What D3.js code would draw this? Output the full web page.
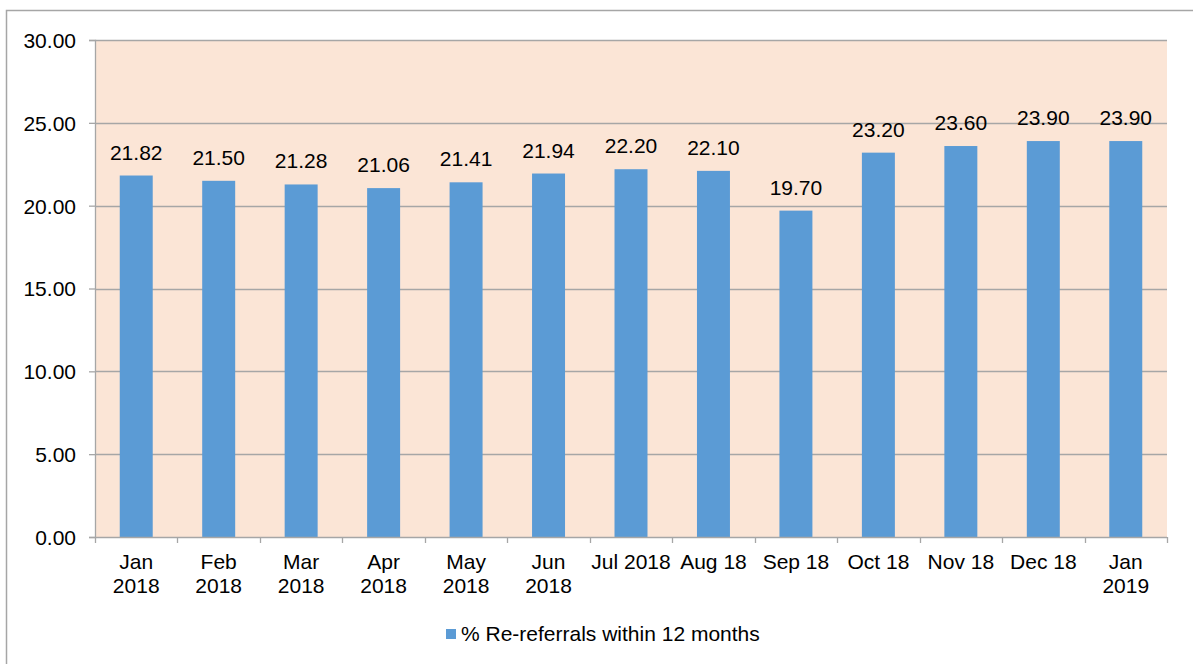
<!DOCTYPE html>
<html>
<head>
<meta charset="utf-8">
<style>
  body { margin: 0; background: #fff; }
  text { font-family: "Liberation Sans", Arial, sans-serif; fill: #000; }
</style>
</head>
<body>
<script src="https://d3js.org/d3.v7.min.js"></script>
<script>
  // chart data
  const months = [
    ['Jan', '2018'], ['Feb', '2018'], ['Mar', '2018'], ['Apr', '2018'],
    ['May', '2018'], ['Jun', '2018'], ['Jul 2018'], ['Aug 18'],
    ['Sep 18'], ['Oct 18'], ['Nov 18'], ['Dec 18'], ['Jan', '2019']
  ]
  const values = [21.82, 21.50, 21.28, 21.06, 21.41, 21.94, 22.20, 22.10, 19.70, 23.20, 23.60, 23.90, 23.90]
  const yTicks = [0, 5, 10, 15, 20, 25, 30]
  const seriesName = '% Re-referrals within 12 months'

  const width = 1193
  const height = 664
  const margins = { top: 40, right: 26, bottom: 127, left: 95 }
  const w = width - margins.left - margins.right
  const h = height - margins.top - margins.bottom
  const fs = '21px'

  const svg = d3.select('body').append('svg')
    .attr('width', width)
    .attr('height', height)

  // outer frame (only left and top visible in the crop)
  svg.append('rect')
    .attr('x', 6.5).attr('y', 10.5)
    .attr('width', width + 20).attr('height', height + 20)
    .attr('fill', 'none')
    .attr('stroke', '#a6a6a6')
    .attr('stroke-width', 1.5)

  const g = svg.append('g')
    .attr('transform', `translate(${margins.left}, ${margins.top})`)

  const x = d3.scaleBand()
    .domain(months.map((d, i) => i))
    .range([0, w])
    .paddingInner(0.6)
    .paddingOuter(0.3)

  const y = d3.scaleLinear()
    .domain([0, 30])
    .range([h, 0])

  // plot background
  g.append('rect')
    .attr('width', w).attr('height', h)
    .attr('fill', '#fbe5d6')

  // grid lines
  g.selectAll('.grid')
    .data(yTicks.slice(1))
    .enter().append('line')
    .attr('x1', 0).attr('x2', w)
    .attr('y1', d => Math.round(y(d)) + 0.5)
    .attr('y2', d => Math.round(y(d)) + 0.5)
    .attr('stroke', '#a6a6a6')
    .attr('stroke-width', 1.3)

  // bars
  g.selectAll('.bar')
    .data(values)
    .enter().append('rect')
    .attr('x', (d, i) => x(i))
    .attr('y', d => y(d))
    .attr('width', x.bandwidth())
    .attr('height', d => h - y(d))
    .attr('fill', '#5b9bd5')

  // value labels
  g.selectAll('.val')
    .data(values)
    .enter().append('text')
    .attr('x', (d, i) => x(i) + x.bandwidth() / 2)
    .attr('y', d => y(d) - 16)
    .attr('text-anchor', 'middle')
    .attr('font-size', fs)
    .text(d => d.toFixed(2))

  // y axis
  const yAxis = d3.axisLeft(y)
    .tickValues(yTicks)
    .tickSize(6)
    .tickPadding(13)
    .tickFormat(d => d.toFixed(2))
  const ya = g.append('g').call(yAxis)
  ya.selectAll('path, line').attr('stroke', '#a6a6a6').attr('stroke-width', 1.3)
  ya.selectAll('text').attr('font-size', fs).attr('dy', '0.35em')

  // x axis line and boundary ticks
  const step = x.step()
  const bounds = d3.range(months.length + 1).map(i => i * step)
  g.append('line')
    .attr('x1', 0).attr('x2', w)
    .attr('y1', h + 0.5).attr('y2', h + 0.5)
    .attr('stroke', '#a6a6a6').attr('stroke-width', 1.3)
  g.selectAll('.xt')
    .data(bounds)
    .enter().append('line')
    .attr('x1', d => Math.round(d) + 0.5).attr('x2', d => Math.round(d) + 0.5)
    .attr('y1', h).attr('y2', h + 6)
    .attr('stroke', '#a6a6a6').attr('stroke-width', 1.3)

  // category labels
  const cat = g.selectAll('.cat')
    .data(months)
    .enter().append('text')
    .attr('text-anchor', 'middle')
    .attr('font-size', fs)
    .attr('transform', (d, i) => `translate(${x(i) + x.bandwidth() / 2}, ${h + 32})`)
  cat.selectAll('tspan')
    .data(d => d)
    .enter().append('tspan')
    .attr('x', 0)
    .attr('dy', (d, i) => i === 0 ? 0 : 24)
    .text(d => d)

  // legend
  const legend = svg.append('g').attr('transform', 'translate(446, 629)')
  legend.append('rect')
    .attr('width', 10).attr('height', 10)
    .attr('fill', '#5b9bd5')
  legend.append('text')
    .attr('x', 15).attr('y', 12)
    .attr('font-size', fs)
    .text(seriesName)
</script>
</body>
</html>
